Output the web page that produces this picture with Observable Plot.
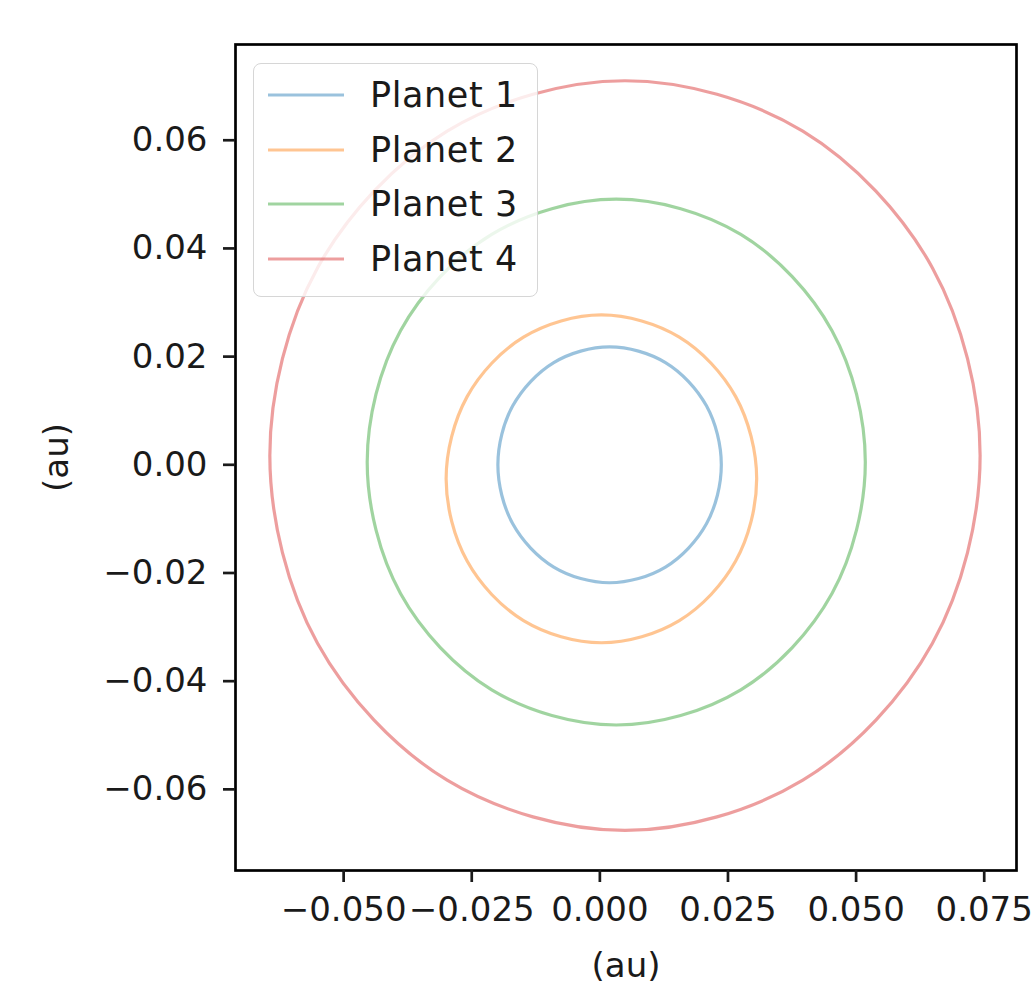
<!DOCTYPE html>
<html>
<head>
<meta charset="utf-8">
<script src="https://cdn.jsdelivr.net/npm/d3@7"></script>
<script src="https://cdn.jsdelivr.net/npm/@observablehq/plot@0.6"></script>
<style>
  html, body { margin: 0; padding: 0; background: #fff; }
  #wrap { position: relative; width: 1034px; height: 985px; font-family: "DejaVu Sans", sans-serif; }
  #legend { position: absolute; left: 253px; top: 63px; width: 285px; height: 234px;
    border: 1.5px solid #d6d6d6; border-radius: 8px; background: rgba(255,255,255,0.8); box-sizing: border-box; }
  .row { position: absolute; left: 0; height: 40px; display: flex; align-items: center; }
  .row svg { margin-left: 14px; }
  .row span { margin-left: 26px; font-size: 35px; letter-spacing: 0.6px; color: #1a1a1a; }
</style>
</head>
<body>
<div id="wrap"></div>
<script>
// Planet names and colours
const planets = ["Planet 1", "Planet 2", "Planet 3", "Planet 4"];
const colors = ["#1f77b4", "#ff7f0e", "#2ca02c", "#d62728"];

// Orbit points (au), every 30 degrees around each orbit
const p1x = [0.0237, 0.0208, 0.0128, 0.0019, -0.0090, -0.0170, -0.0199, -0.0170, -0.0090, 0.0019, 0.0128, 0.0208];
const p1y = [0.0000, 0.0109, 0.0189, 0.0218, 0.0189, 0.0109, 0.0000, -0.0109, -0.0189, -0.0218, -0.0189, -0.0109];
const p2x = [0.0306, 0.0265, 0.0155, 0.0003, -0.0149, -0.0259, -0.0300, -0.0259, -0.0149, 0.0003, 0.0155, 0.0265];
const p2y = [-0.0026, 0.0126, 0.0236, 0.0277, 0.0236, 0.0126, -0.0026, -0.0178, -0.0288, -0.0329, -0.0288, -0.0178];
const p3x = [0.0518, 0.0453, 0.0275, 0.0032, -0.0211, -0.0389, -0.0454, -0.0389, -0.0211, 0.0032, 0.0275, 0.0453];
const p3y = [0.0005, 0.0248, 0.0426, 0.0491, 0.0426, 0.0248, 0.0005, -0.0238, -0.0416, -0.0481, -0.0416, -0.0238];
const p4x = [0.0742, 0.0649, 0.0396, 0.0049, -0.0298, -0.0551, -0.0644, -0.0551, -0.0298, 0.0049, 0.0396, 0.0649];
const p4y = [0.0017, 0.0364, 0.0617, 0.0710, 0.0617, 0.0364, 0.0017, -0.0330, -0.0583, -0.0676, -0.0583, -0.0330];

// Tick values
const xTicks = [-0.050, -0.025, 0.000, 0.025, 0.050, 0.075];
const yTicks = [-0.06, -0.04, -0.02, 0.00, 0.02, 0.04, 0.06];
const xDomain = [-0.0711, 0.0813];
const yDomain = [-0.0750, 0.0777];

const series = [[p1x, p1y], [p2x, p2y], [p3x, p3y], [p4x, p4y]];
const rows = [];
series.forEach(([xs, ys], i) => xs.forEach((x, j) => rows.push({planet: planets[i], x, y: ys[j]})));

const chart = Plot.plot({
  width: 1034,
  height: 985,
  marginLeft: 235,
  marginRight: 18,
  marginTop: 44,
  marginBottom: 115,
  style: {fontFamily: "DejaVu Sans, sans-serif", fontSize: "34px", color: "#1a1a1a", background: "#fff"},
  x: {domain: xDomain},
  y: {domain: yDomain},
  color: {domain: planets, range: colors},
  marks: [
    Plot.line(rows, {x: "x", y: "y", z: "planet", stroke: "planet", strokeWidth: 3.2, strokeOpacity: 0.45, curve: "catmull-rom-closed"}),
    Plot.frame({stroke: "#000", strokeWidth: 2.7}),
    Plot.axisX({ticks: xTicks, tickFormat: d3.format(".3f"), tickSize: 12, tickPadding: 14, strokeWidth: 2.7,
      label: "(au)", labelAnchor: "center", labelArrow: "none", labelOffset: 106}),
    Plot.axisY({ticks: yTicks, tickFormat: d3.format(".2f"), tickSize: 12, tickPadding: 16, strokeWidth: 2.7,
      label: "(au)", labelAnchor: "center", labelArrow: "none", labelOffset: 192})
  ]
});

const wrap = document.getElementById("wrap");
wrap.appendChild(chart);

const legend = document.createElement("div");
legend.id = "legend";
planets.forEach((p, i) => {
  const row = document.createElement("div");
  row.className = "row";
  row.style.top = (11 + i * 54.7) + "px";
  row.innerHTML = `<svg width="76" height="6"><line x1="0" y1="3" x2="76" y2="3" stroke="${colors[i]}" stroke-opacity="0.45" stroke-width="3"/></svg><span>${p}</span>`;
  legend.appendChild(row);
});
wrap.appendChild(legend);
</script>
</body>
</html>
